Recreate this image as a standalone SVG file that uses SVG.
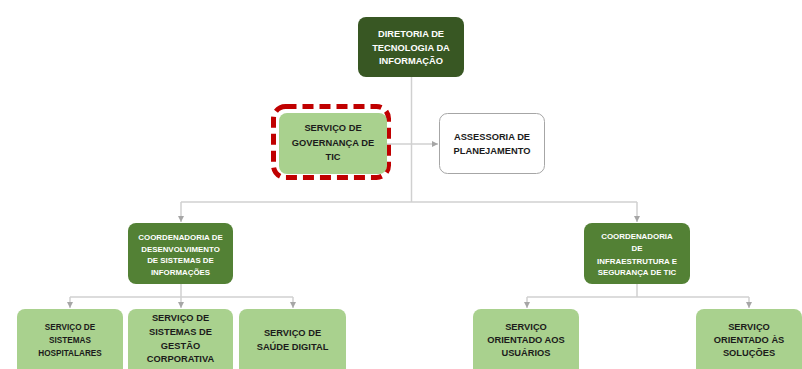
<svg xmlns="http://www.w3.org/2000/svg" width="802" height="369" viewBox="0 0 802 369">
<style>
text{font-family:"Liberation Sans",Arial,sans-serif;font-weight:bold;text-anchor:middle}
.dark rect{fill:#385723}
.mid rect{fill:#538135}
.light rect{fill:#A9D18E}
.dark text,.mid text{fill:#ffffff}
.light text,.white text{fill:#1b1b1b}
.t9{font-size:9.3px}
.t8{font-size:7.9px}
.t79{font-size:8.2px}
.conn{fill:none;stroke:#D0D0D0;stroke-width:1.5}
</style>
<defs>
<marker id="ah" viewBox="0 0 10 10" refX="10" refY="5" markerWidth="6" markerHeight="6" orient="auto" markerUnits="userSpaceOnUse">
<path d="M0,0 L10,5 L0,10 z" fill="#A6A6A6"/>
</marker>
</defs>
<rect width="802" height="369" fill="#ffffff"/>
<g id="connectors" class="conn">
<path d="M411.5,77 V202"/>
<path d="M387,144 H438" marker-end="url(#ah)"/>
<path d="M181,202 H637"/>
<path d="M181,202 V222" marker-end="url(#ah)"/>
<path d="M637,202 V222" marker-end="url(#ah)"/>
<path d="M181,284 V297"/>
<path d="M70,297 H293"/>
<path d="M70,297 V308" marker-end="url(#ah)"/>
<path d="M181,297 V308" marker-end="url(#ah)"/>
<path d="M293,297 V308" marker-end="url(#ah)"/>
<path d="M637,284 V297"/>
<path d="M527,297 H749"/>
<path d="M527,297 V308" marker-end="url(#ah)"/>
<path d="M749,297 V308" marker-end="url(#ah)"/>
</g>
<g id="diretoria" class="dark">
<rect x="358" y="17" width="106" height="60" rx="8"/>
<text class="t9" x="411" y="37">DIRETORIA DE</text>
<text class="t9" x="411" y="50.5">TECNOLOGIA DA</text>
<text class="t9" x="411" y="64">INFORMAÇÃO</text>
</g>
<g id="governanca" class="light">
<rect x="273.5" y="106.5" width="115" height="71" rx="12" stroke="#C00000" stroke-width="5" stroke-dasharray="11,6" style="fill:none"/>
<rect x="279" y="113" width="108" height="61" rx="8"/>
<text class="t9" x="333" y="131">SERVIÇO DE</text>
<text class="t9" x="333" y="146">GOVERNANÇA DE</text>
<text class="t9" x="333" y="160">TIC</text>
</g>
<g id="assessoria" class="white">
<rect x="439.5" y="113.5" width="105" height="60" rx="8" fill="#ffffff" stroke="#A6A6A6" stroke-width="1"/>
<text class="t9" x="492" y="140">ASSESSORIA DE</text>
<text class="t9" x="492" y="154">PLANEJAMENTO</text>
</g>
<g id="coord-desenvolvimento" class="mid">
<rect x="128" y="223" width="105" height="61" rx="8"/>
<text class="t8" x="180.5" y="240">COORDENADORIA DE</text>
<text class="t8" x="180.5" y="251.5">DESENVOLVIMENTO</text>
<text class="t8" x="180.5" y="263">DE SISTEMAS DE</text>
<text class="t8" x="180.5" y="274.5">INFORMAÇÕES</text>
</g>
<g id="coord-infraestrutura" class="mid">
<rect x="584" y="223" width="106" height="61" rx="8"/>
<text class="t8" x="637" y="239">COORDENADORIA</text>
<text class="t8" x="637" y="251">DE</text>
<text class="t8" x="637" y="264">INFRAESTRUTURA E</text>
<text class="t8" x="637" y="275">SEGURANÇA DE TIC</text>
</g>
<g id="sistemas-hospitalares" class="light">
<rect x="17" y="309" width="106" height="70" rx="8"/>
<text class="t79" x="70" y="330">SERVIÇO DE</text>
<text class="t79" x="70" y="343">SISTEMAS</text>
<text class="t79" x="70" y="356">HOSPITALARES</text>
</g>
<g id="gestao-corporativa" class="light">
<rect x="128" y="309" width="105" height="70" rx="8"/>
<text class="t9" x="180.5" y="321">SERVIÇO DE</text>
<text class="t9" x="180.5" y="335">SISTEMAS DE</text>
<text class="t9" x="180.5" y="349">GESTÃO</text>
<text class="t9" x="180.5" y="362">CORPORATIVA</text>
</g>
<g id="saude-digital" class="light">
<rect x="239" y="309" width="107" height="70" rx="8"/>
<text class="t9" x="292.5" y="336">SERVIÇO DE</text>
<text class="t9" x="292.5" y="350">SAÚDE DIGITAL</text>
</g>
<g id="orientado-usuarios" class="light">
<rect x="473" y="309" width="106" height="70" rx="8"/>
<text class="t9" x="526" y="330">SERVIÇO</text>
<text class="t9" x="526" y="343">ORIENTADO AOS</text>
<text class="t9" x="526" y="356">USUÁRIOS</text>
</g>
<g id="orientado-solucoes" class="light">
<rect x="696" y="309" width="106" height="70" rx="8"/>
<text class="t9" x="749" y="330">SERVIÇO</text>
<text class="t9" x="749" y="343">ORIENTADO ÀS</text>
<text class="t9" x="749" y="356">SOLUÇÕES</text>
</g>
</svg>
